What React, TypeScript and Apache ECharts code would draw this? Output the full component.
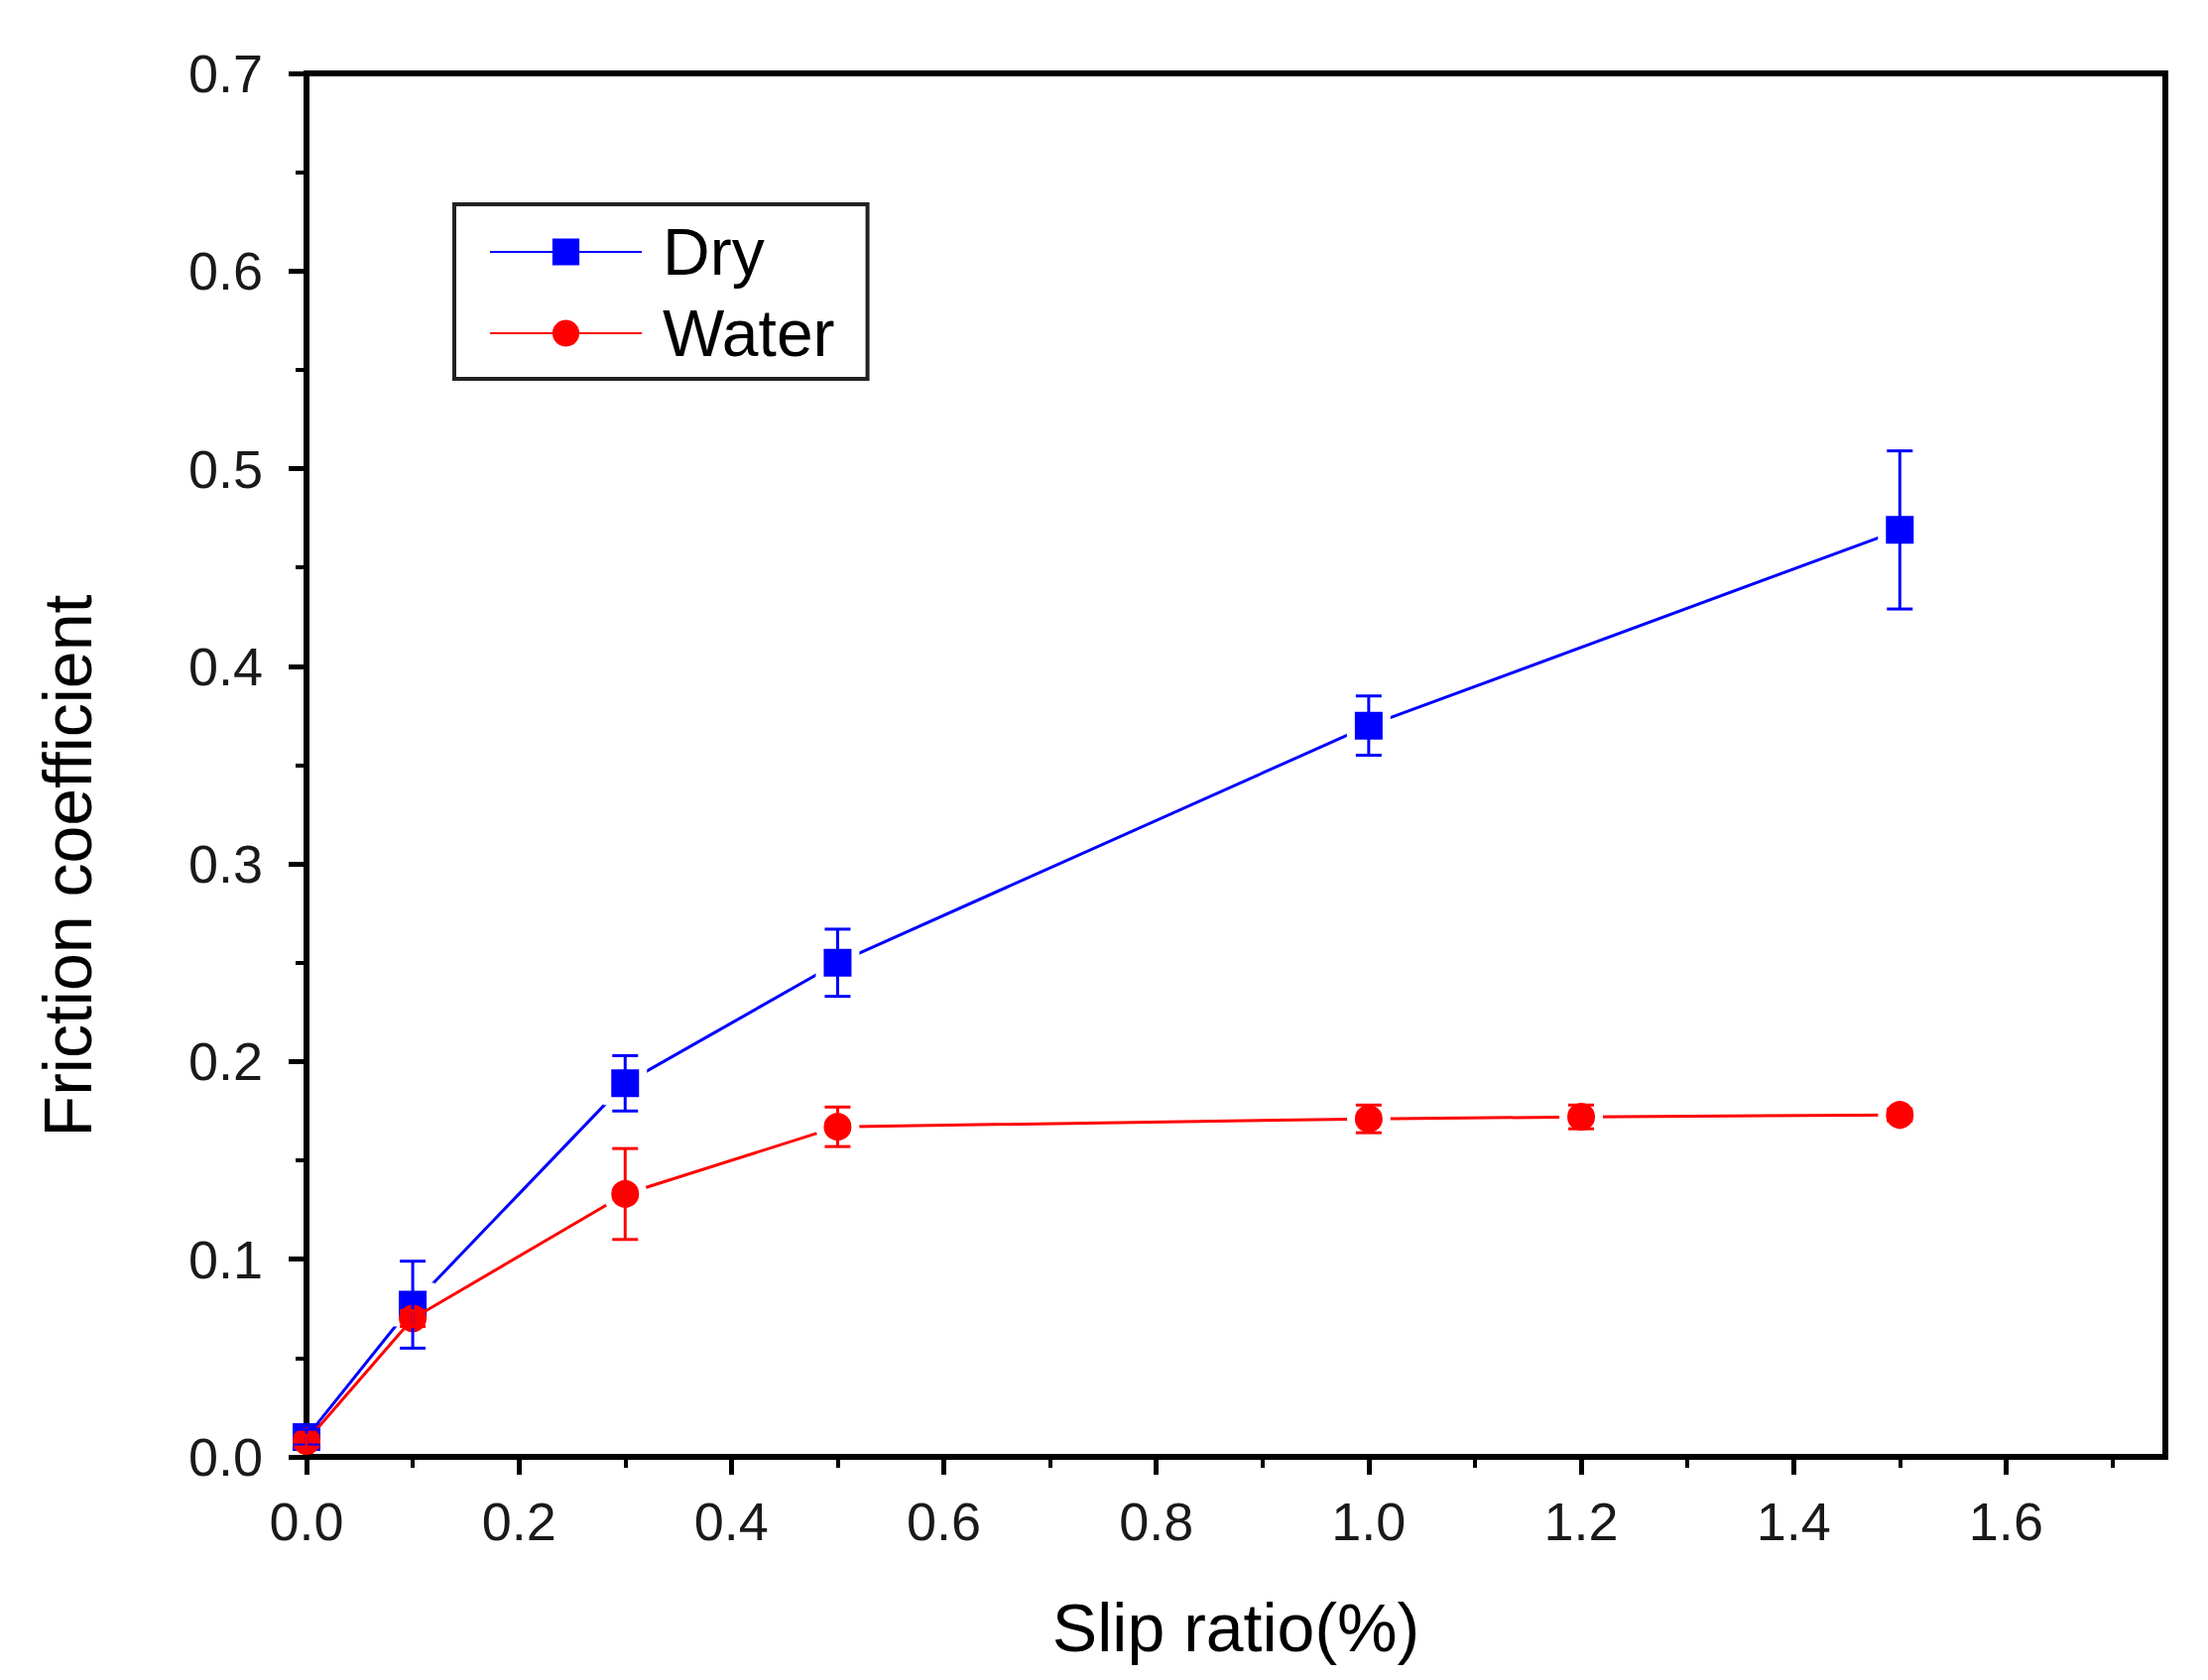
import * as echarts from "echarts";
import { useEffect, useRef } from "react";

// slip ratio (%) for each series
const drySlip = [0, 0.1, 0.3, 0.5, 1.0, 1.5];
const dryMean = [0.01, 0.077, 0.189, 0.25, 0.37, 0.469];
const dryErr = [0.004, 0.022, 0.014, 0.017, 0.015, 0.04];

const waterSlip = [0, 0.1, 0.3, 0.5, 1.0, 1.2, 1.5];
const waterMean = [0.008, 0.07, 0.133, 0.167, 0.171, 0.172, 0.173];
const waterErr = [0.003, 0.004, 0.023, 0.01, 0.007, 0.006, 0.003];

const xMajor = [0, 0.2, 0.4, 0.6, 0.8, 1.0, 1.2, 1.4, 1.6];
const xMinor = [0.1, 0.3, 0.5, 0.7, 0.9, 1.1, 1.3, 1.5, 1.7];

const FONT = "Liberation Sans, Arial, sans-serif";
const BLUE = "#0000ff";
const RED = "#ff0000";

function points(xs: number[], ys: number[], bare: number) {
  // points before index `bare` overlap the axes or the other series: no white halo
  return xs.map((x, i) =>
    i < bare
      ? { value: [x, ys[i]], symbolSize: 28, itemStyle: { borderWidth: 0 } }
      : { value: [x, ys[i]] }
  );
}

function errorBars(name: string, xs: number[], ys: number[], es: number[], color: string) {
  return {
    name,
    type: "custom",
    z: 4,
    data: xs.map((x, i) => [x, ys[i] - es[i], ys[i] + es[i]]),
    encode: { x: 0, y: [1, 2] },
    renderItem: (_params: any, api: any) => {
      const x = api.value(0);
      const lo = api.coord([x, api.value(1)]);
      const hi = api.coord([x, api.value(2)]);
      const w = 13;
      const style = { stroke: color, lineWidth: 3 };
      return {
        type: "group",
        children: [
          { type: "line", shape: { x1: lo[0], y1: lo[1], x2: hi[0], y2: hi[1] }, style },
          { type: "line", shape: { x1: hi[0] - w, y1: hi[1], x2: hi[0] + w, y2: hi[1] }, style },
          { type: "line", shape: { x1: lo[0] - w, y1: lo[1], x2: lo[0] + w, y2: lo[1] }, style }
        ]
      };
    }
  };
}

export default function App() {
  const ref = useRef<HTMLDivElement | null>(null);

  useEffect(() => {
    if (!ref.current) {
      return;
    }

    const chart = echarts.init(ref.current, null, { renderer: "svg" });
    const axisLine = { show: true, lineStyle: { color: "#000", width: 6 } };
    const tickLabel = { color: "#1a1a1a", fontSize: 54, fontFamily: FONT };

    chart.setOption({
      animation: false,
      backgroundColor: "#fff",
      grid: {
        left: 309,
        right: 43,
        top: 74,
        bottom: 225,
        show: true,
        borderColor: "#000",
        borderWidth: 6
      },
      graphic: [
        {
          type: "text",
          x: 68,
          y: 873,
          rotation: Math.PI / 2,
          style: {
            text: "Friction coefficient",
            fill: "#000",
            fontSize: 68,
            fontFamily: FONT,
            align: "center",
            verticalAlign: "middle"
          }
        }
      ],
      legend: {
        data: ["Dry", "Water"],
        orient: "vertical",
        left: 458,
        top: 206,
        padding: [15, 33, 13, 35],
        itemGap: 16,
        itemWidth: 153,
        itemHeight: 34,
        borderColor: "#222",
        borderWidth: 4,
        itemStyle: { borderWidth: 0 },
        textStyle: {
          color: "#000",
          fontSize: 66,
          lineHeight: 66,
          fontFamily: FONT,
          padding: [0, 0, 0, 16]
        }
      },
      xAxis: [
        {
          type: "value",
          min: 0,
          max: 1.75,
          position: "bottom",
          name: "Slip ratio(%)",
          nameLocation: "middle",
          nameGap: 138,
          nameTextStyle: { color: "#000", fontSize: 68, fontFamily: FONT },
          axisLine,
          axisTick: { show: true, length: 18, lineStyle: { color: "#000", width: 5 }, customValues: xMajor },
          axisLabel: {
            ...tickLabel,
            margin: 38,
            customValues: xMajor,
            formatter: (v: number) => v.toFixed(1)
          },
          splitLine: { show: false }
        },
        {
          type: "value",
          min: 0,
          max: 1.75,
          position: "bottom",
          axisLine: { show: false },
          axisTick: { show: true, length: 11, lineStyle: { color: "#000", width: 4 }, customValues: xMinor },
          axisLabel: { show: false },
          splitLine: { show: false }
        }
      ],
      yAxis: {
        type: "value",
        min: 0,
        max: 0.7,
        interval: 0.1,
        axisLine,
        axisTick: { show: true, length: 18, lineStyle: { color: "#000", width: 5 } },
        minorTick: { show: true, splitNumber: 2, length: 11, lineStyle: { color: "#000", width: 4 } },
        axisLabel: { ...tickLabel, margin: 44, formatter: (v: number) => v.toFixed(1) },
        splitLine: { show: false },
        minorSplitLine: { show: false }
      },
      series: [
        {
          name: "Dry",
          type: "line",
          data: points(drySlip, dryMean, 1),
          symbol: "rect",
          symbolSize: 36,
          lineStyle: { color: BLUE, width: 3 },
          itemStyle: { color: BLUE, borderColor: "#fff", borderWidth: 8 },
          z: 2
        },
        errorBars("Dry error", drySlip, dryMean, dryErr, BLUE),
        {
          name: "Water",
          type: "line",
          data: points(waterSlip, waterMean, 2),
          symbol: "circle",
          symbolSize: 36,
          lineStyle: { color: RED, width: 3 },
          itemStyle: { color: RED, borderColor: "#fff", borderWidth: 8 },
          z: 3
        },
        errorBars("Water error", waterSlip, waterMean, waterErr, RED)
      ]
    });

    const resize = () => chart.resize();
    window.addEventListener("resize", resize);
    return () => {
      window.removeEventListener("resize", resize);
      chart.dispose();
    };
  }, []);

  return (
    <div
      ref={ref}
      style={{ position: "absolute", left: 0, top: 0, width: 2226, height: 1694 }}
    />
  );
}
